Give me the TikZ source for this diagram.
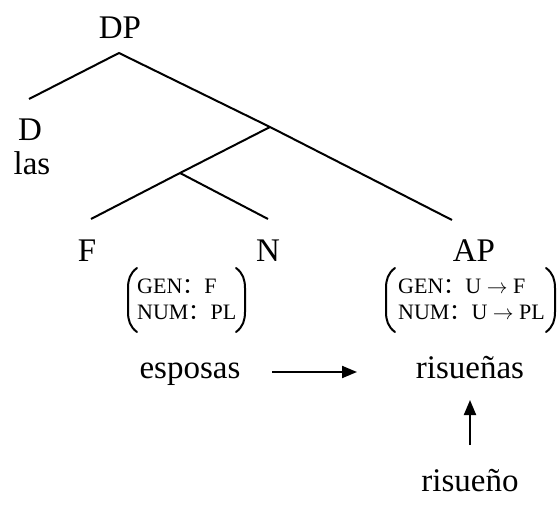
\documentclass[tikz,border=0pt]{standalone}
\usepackage{fontspec}
\setmainfont{Liberation Serif}
\newfontfamily\cjkfont{Noto Sans CJK SC}
\usetikzlibrary{arrows.meta}
% full-width colon used in the feature matrices
\newcommand{\fcolon}{{\cjkfont ：}}
% a pair of tall parentheses: left x, right x, top y, bottom y
\newcommand{\parenpair}[4]{%
  \draw[paren] (#1+9,#3) .. controls (#1+2,#3+5) and (#1,#3+12) .. (#1,#3+20)
    -- (#1,#4-20) .. controls (#1,#4-12) and (#1+2,#4-5) .. (#1+9,#4);
  \draw[paren] (#2-9,#3) .. controls (#2-2,#3+5) and (#2,#3+12) .. (#2,#3+20)
    -- (#2,#4-20) .. controls (#2,#4-12) and (#2-2,#4-5) .. (#2-9,#4);}
\begin{document}
\begin{tikzpicture}[x=1pt,y=-1pt,
  branch/.style={line width=2pt},
  paren/.style={line width=2pt, line cap=round},
  cat/.style={font=\fontsize{33}{40}\selectfont, inner sep=0pt, anchor=base},
  feat/.style={font=\fontsize{22}{26}\selectfont, inner sep=0pt, anchor=base west},
  move/.style={line width=2pt, -{Triangle[length=15pt,width=12pt]}}]
\useasboundingbox (0,0) rectangle (557,508);

% tree skeleton
\coordinate (top) at (119,53);
\coordinate (dend) at (29,99);
\coordinate (mid) at (270,127);
\coordinate (low) at (180,173);
\coordinate (fend) at (91,219);
\coordinate (nend) at (268,219);
\coordinate (apend) at (452,220);

\draw[branch] (dend) -- (top) -- (mid) -- (apend);
\draw[branch] (mid) -- (low) -- (fend);
\draw[branch] (low) -- (nend);

% category labels
\node[cat] (dp) at (120,39) {DP};
\node[cat] (d) at (30,141) {D};
\node[cat] (las) at (32,175) {las};
\node[cat] (f) at (87,261) {F};
\node[cat] (n) at (268,261) {N};
\node[cat] (ap) at (474,261) {AP};

% feature matrices
\node[feat] (nfeat) at (137,293)
  {\begin{tabular}[t]{@{}l@{}}GEN\fcolon F\\ NUM\fcolon PL\end{tabular}};
\node[feat] (afeat) at (398,293)
  {\begin{tabular}[t]{@{}l@{}}GEN\fcolon U $\rightarrow$ F\\ NUM\fcolon U $\rightarrow$ PL\end{tabular}};
\parenpair{128}{245}{268}{332}
\parenpair{386}{555}{268}{332}

% words
\node[cat] (esposas) at (190,378) {esposas};
\node[cat] (risuenas) at (470,378) {risueñas};
\node[cat] (risueno) at (470,491) {risueño};

% agreement and lexical arrows
\coordinate (agrL) at (272,372);
\coordinate (agrR) at (357,372);
\coordinate (lexB) at (470,445);
\coordinate (lexT) at (470,400);
\draw[move] (agrL) -- (agrR);
\draw[move] (lexB) -- (lexT);
\end{tikzpicture}
\end{document}
